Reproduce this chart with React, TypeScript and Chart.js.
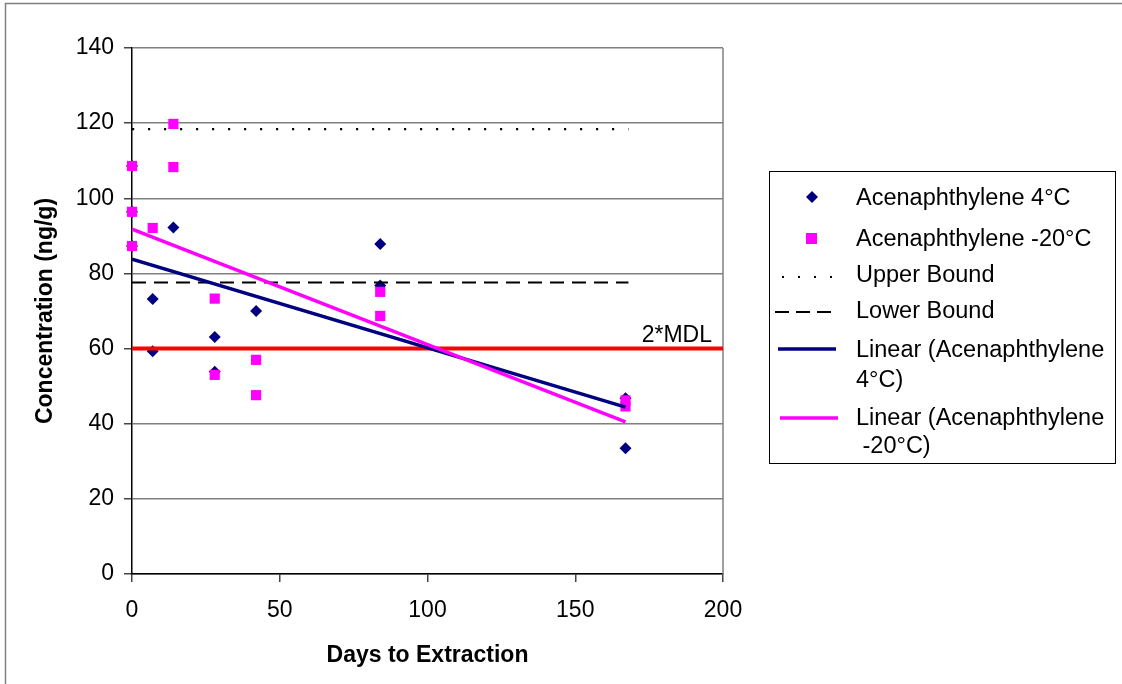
import React, { useEffect, useRef } from "react";
import { Chart, registerables } from "chart.js";
Chart.register(...registerables);

// Acenaphthylene 4°C
const days4C = [0, 0, 0, 7, 7, 14, 28, 28, 42, 84, 84, 167, 167];
const conc4C = [108.6, 96.4, 87.3, 73.2, 59.3, 92.2, 63.1, 53.8, 70.0, 87.8, 76.8, 46.8, 33.5];
// Acenaphthylene -20°C
const daysM20 = [0, 0, 0, 7, 14, 14, 28, 28, 42, 42, 84, 84, 167, 167];
const concM20 = [108.6, 96.4, 87.3, 92.1, 119.8, 108.3, 73.3, 53.0, 57.0, 47.6, 75.1, 68.7, 46.2, 44.6];
// Linear trend lines (endpoints)
const trendDays = [0, 167];
const trend4C = [83.8, 44.4];
const trendM20 = [91.8, 40.5];
// Bounds
const boundDays = [0, 168];
const upperBound = [118.4, 118.4];
const lowerBound = [77.6, 77.6];
const mdlDays = [0, 200];
const mdl = [60, 60];

const xTicks = [0, 50, 100, 150, 200];
const yTicks = [0, 20, 40, 60, 80, 100, 120, 140];

const legendLabels = [
  ["Acenaphthylene 4°C"],
  ["Acenaphthylene -20°C"],
  ["Upper Bound"],
  ["Lower Bound"],
  ["Linear (Acenaphthylene", "4°C)"],
  ["Linear (Acenaphthylene", " -20°C)"],
];

const NAVY = "#000080";
const MAGENTA = "#ff00ff";
const FONT = "Arial, 'Liberation Sans', sans-serif";

const pts = (xs: number[], ys: number[]) => xs.map((x, i) => ({ x, y: ys[i] }));

export default function App() {
  const ref = useRef<HTMLCanvasElement | null>(null);
  useEffect(() => {
    const canvas = ref.current!;
    const decor = {
      id: "decor",
      beforeDatasetsDraw(chart: any) {
        const { ctx, chartArea } = chart;
        ctx.save();
        ctx.strokeStyle = "#808080";
        ctx.lineWidth = 1.5;
        ctx.beginPath();
        ctx.moveTo(chartArea.right, chartArea.top);
        ctx.lineTo(chartArea.right, chartArea.bottom);
        ctx.stroke();
        ctx.restore();
      },
      afterDraw(chart: any) {
        const { ctx, chartArea, scales } = chart;
        ctx.save();
        // outer border
        ctx.strokeStyle = "#808080";
        ctx.lineWidth = 1.5;
        ctx.strokeRect(5.5, 3.5, 1200, 800);
        // 2*MDL label
        ctx.fillStyle = "#000";
        ctx.font = `23px ${FONT}`;
        ctx.textAlign = "right";
        ctx.textBaseline = "alphabetic";
        ctx.fillText("2*MDL", chartArea.right - 11, scales.y.getPixelForValue(mdl[0]) - 6.5);
        // legend box
        ctx.strokeStyle = "#000";
        ctx.lineWidth = 1;
        ctx.strokeRect(769.5, 171.5, 346, 292);
        // markers
        ctx.fillStyle = NAVY;
        ctx.beginPath();
        ctx.moveTo(812, 191);
        ctx.lineTo(818, 197);
        ctx.lineTo(812, 203);
        ctx.lineTo(806, 197);
        ctx.closePath();
        ctx.fill();
        ctx.fillStyle = MAGENTA;
        ctx.fillRect(806, 233, 11, 11);
        // dotted
        ctx.strokeStyle = "#000";
        ctx.lineWidth = 2;
        ctx.setLineDash([2, 14]);
        ctx.beginPath();
        ctx.moveTo(782, 277);
        ctx.lineTo(836, 277);
        ctx.stroke();
        ctx.setLineDash([14, 7]);
        ctx.beginPath();
        ctx.moveTo(775, 312);
        ctx.lineTo(836, 312);
        ctx.stroke();
        ctx.setLineDash([]);
        ctx.lineWidth = 3.5;
        ctx.strokeStyle = NAVY;
        ctx.beginPath();
        ctx.moveTo(778, 349);
        ctx.lineTo(836, 349);
        ctx.stroke();
        ctx.strokeStyle = MAGENTA;
        ctx.beginPath();
        ctx.moveTo(780, 418);
        ctx.lineTo(838, 418);
        ctx.stroke();
        // texts
        ctx.fillStyle = "#000";
        ctx.textAlign = "left";
        ctx.font = `23.5px ${FONT}`;
        const baselines = [[205], [246], [282], [318], [357, 387], [425, 453]];
        legendLabels.forEach((lines, i) => {
          lines.forEach((t, j) => ctx.fillText(t, 856, baselines[i][j]));
        });
        ctx.restore();
      },
    };
    const chart = new Chart(canvas, {
      type: "scatter",
      data: {
        datasets: [
          {
            label: "Linear (Acenaphthylene -20°C)",
            data: pts(trendDays, trendM20),
            showLine: true,
            borderColor: MAGENTA,
            borderWidth: 3.5,
            pointRadius: 0,
            order: 0,
          },
          {
            label: "Linear (Acenaphthylene 4°C)",
            data: pts(trendDays, trend4C),
            showLine: true,
            borderColor: NAVY,
            borderWidth: 3.5,
            pointRadius: 0,
            order: 1,
          },
          {
            label: "2*MDL",
            data: pts(mdlDays, mdl),
            showLine: true,
            borderColor: "#ff0000",
            borderWidth: 4,
            pointRadius: 0,
            order: 2,
            clip: false as any,
          },
          {
            label: "Upper Bound",
            data: pts(boundDays, upperBound),
            showLine: true,
            borderColor: "#000",
            borderWidth: 2.2,
            borderDash: [2.2, 13.8],
            pointRadius: 0,
            order: 3,
          },
          {
            label: "Lower Bound",
            data: pts(boundDays, lowerBound),
            showLine: true,
            borderColor: "#000",
            borderWidth: 2,
            borderDash: [14, 8],
            pointRadius: 0,
            order: 4,
          },
          {
            label: "Acenaphthylene -20°C",
            data: pts(daysM20, concM20),
            pointStyle: "rect",
            pointRadius: 7.2,
            backgroundColor: MAGENTA,
            borderColor: MAGENTA,
            borderWidth: 0,
            order: 5,
            clip: false as any,
          },
          {
            label: "Acenaphthylene 4°C",
            data: pts(days4C, conc4C),
            pointStyle: "rectRot",
            pointRadius: 6,
            backgroundColor: NAVY,
            borderColor: NAVY,
            borderWidth: 0,
            order: 6,
            clip: false as any,
          },
        ],
      },
      options: {
        responsive: false,
        animation: false,
        events: [],
        layout: { padding: { left: 0, top: 48, right: 399, bottom: 0 } },
        plugins: { legend: { display: false }, tooltip: { enabled: false } },
        scales: {
          x: {
            type: "linear",
            min: 0,
            max: 200,
            afterFit: (s: any) => {
              s.height = 110;
            },
            afterBuildTicks: (s: any) => {
              s.ticks = xTicks.map((v) => ({ value: v }));
            },
            border: { color: "#000", width: 1.5 },
            grid: { drawOnChartArea: false, drawTicks: true, tickLength: 8, tickColor: "#444", lineWidth: 1.5 },
            ticks: { color: "#000", font: { family: FONT, size: 23 }, padding: 15, maxRotation: 0 },
            title: {
              display: true,
              text: "Days to Extraction",
              color: "#000",
              font: { family: FONT, size: 23, weight: "bold" },
              padding: { top: 0, bottom: 15 },
            },
          },
          y: {
            type: "linear",
            min: 0,
            max: 140,
            afterFit: (s: any) => {
              s.width = 132;
            },
            afterBuildTicks: (s: any) => {
              s.ticks = yTicks.map((v) => ({ value: v }));
            },
            border: { color: "#000", width: 1.5 },
            grid: { color: "#808080", lineWidth: 1.5, tickLength: 8, tickColor: "#444" },
            ticks: { color: "#000", font: { family: FONT, size: 23 }, padding: 10 },
            title: {
              display: true,
              text: "Concentration (ng/g)",
              color: "#000",
              font: { family: FONT, size: 23, weight: "bold" },
              padding: { top: 32, bottom: 0 },
            },
          },
        },
      },
      plugins: [decor],
    } as any);
    return () => chart.destroy();
  }, []);
  return (
    <div style={{ position: "absolute", left: 0, top: 0, width: 1122, height: 684, background: "#fff" }}>
      <canvas ref={ref} width={1122} height={684} style={{ display: "block" }} />
    </div>
  );
}
